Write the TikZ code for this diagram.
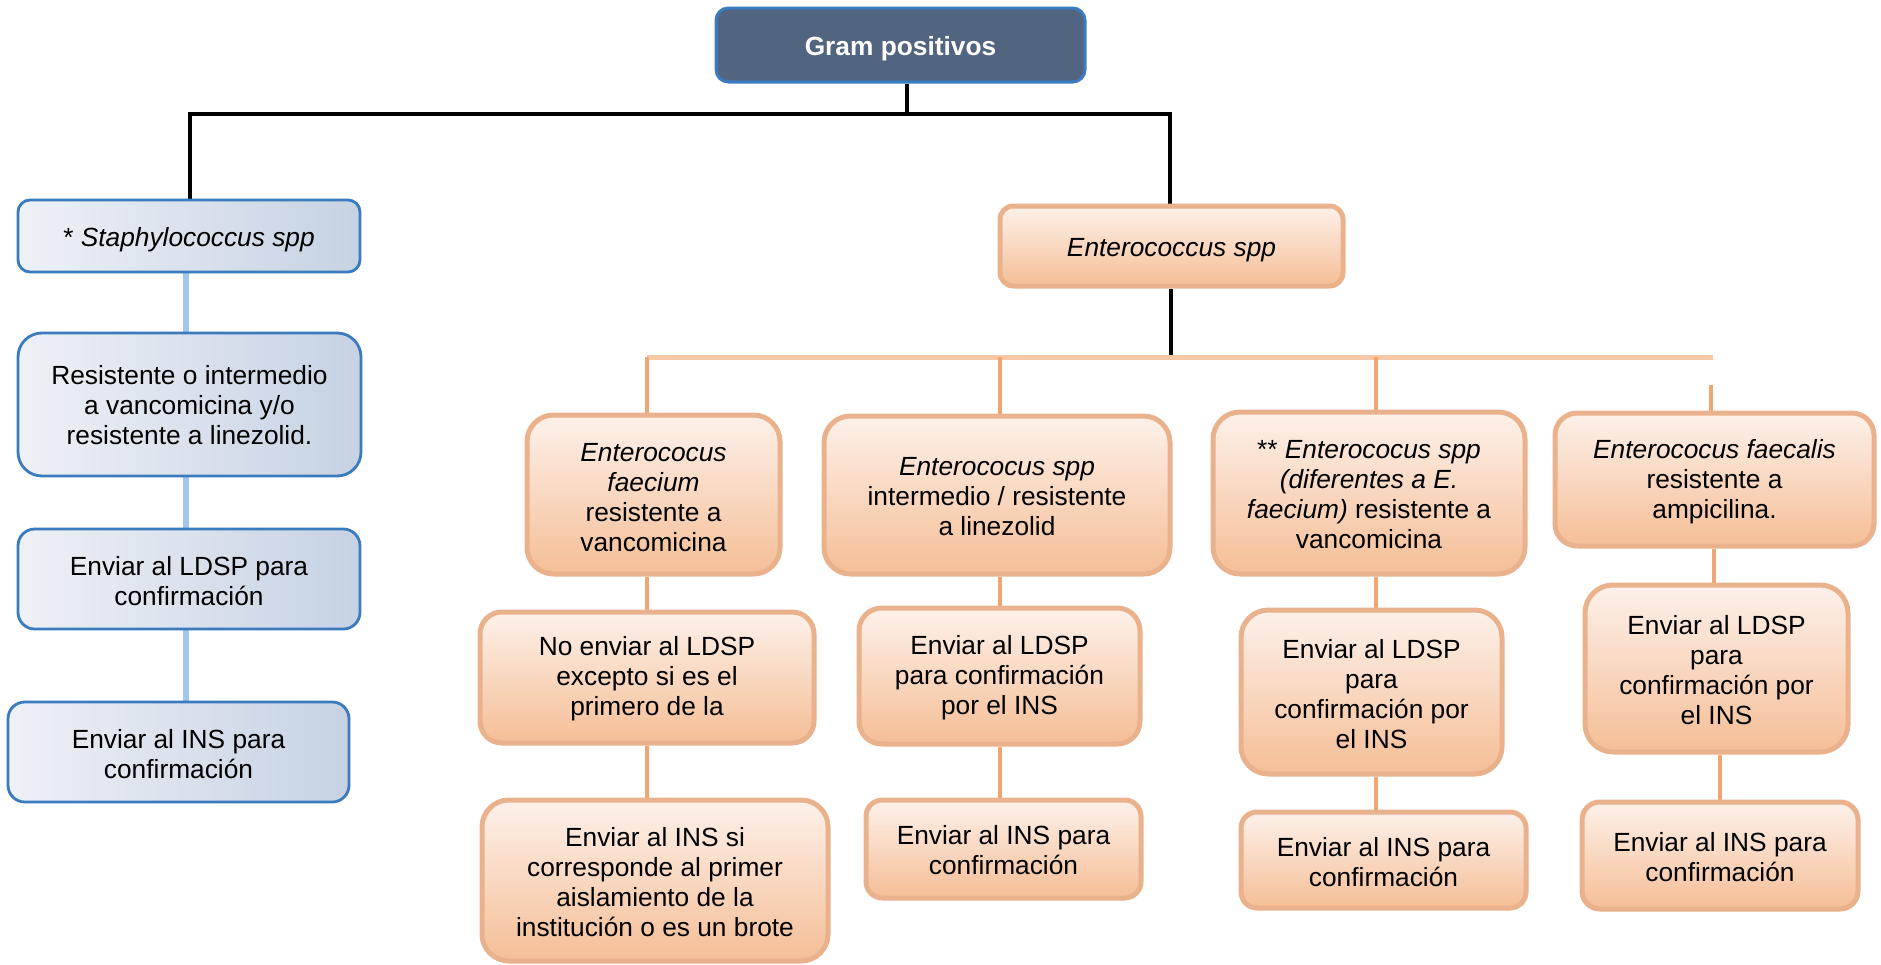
\documentclass[tikz,border=0pt]{standalone}
\usepackage{fontspec}
\setmainfont{Liberation Sans}
\pgfdeclarelayer{bg}
\pgfsetlayers{bg,main}
\definecolor{gramfill}{RGB}{82,101,128}
\definecolor{gramborder}{RGB}{58,124,194}
\definecolor{bluelight}{RGB}{238,241,246}
\definecolor{bluedark}{RGB}{198,210,227}
\definecolor{blueborder}{RGB}{58,122,190}
\definecolor{blueline}{RGB}{163,199,233}
\definecolor{orlight}{RGB}{253,241,234}
\definecolor{ordark}{RGB}{245,190,150}
\definecolor{orborder}{RGB}{234,178,140}
\definecolor{orline}{RGB}{240,166,115}
\definecolor{orbar}{RGB}{247,200,166}
\newcommand\mybox[9][txt]{%
  \pgfmathsetmacro\bw{#6-#4}%
  \pgfmathsetmacro\bh{#7-#5}%
  \pgfmathsetmacro\br{0.167*min(\bw,\bh)}%
  \node[#2, minimum width=\bw pt, minimum height=\bh pt, rounded corners=\br pt] (#3) at ({(#4+#6)/2},{(#5+#7)/2}) {};
  \node[#1] (#3-t) at ([yshift=-#8pt]#3.center) {#9};}
\begin{document}
\begin{tikzpicture}[x=1pt,y=-1pt,
  txt/.style={align=center, inner sep=0pt, font=\fontsize{26.3}{30}\selectfont},
  gramtxt/.style={txt, text=white, font=\fontsize{26.3}{30}\selectfont\bfseries},
  grambox/.style={draw=gramborder, line width=3pt, fill=gramfill},
  bluebox/.style={draw=blueborder, line width=2.8pt, left color=bluelight, right color=bluedark},
  orbox/.style={draw=orborder, line width=5pt, top color=orlight, bottom color=ordark},
  blk/.style={draw=black, line width=4.5pt},
  oline/.style={draw=orline, line width=4.5pt},
  obar/.style={draw=orbar, line width=5pt},
  bline/.style={draw=blueline, line width=5.5pt}]
\useasboundingbox (0,0) rectangle (1881,964);

% top
\mybox[gramtxt]{grambox}{gram}{716}{8}{1085}{82}{4}{Gram positivos}

% left column (blue)
\mybox{bluebox}{staph}{18}{200}{360}{272}{4}{* \textit{Staphylococcus spp}}
\mybox{bluebox}{res}{18}{333}{361}{476}{1}{Resistente o intermedio\\a vancomicina y/o\\resistente a linezolid.}
\mybox{bluebox}{ldspL}{18}{529}{360}{629}{2}{Enviar al LDSP para\\confirmación}
\mybox{bluebox}{insL}{8}{702}{349}{802}{2}{Enviar al INS para\\confirmación}

% Enterococcus
\mybox{orbox}{ent}{1000}{206}{1343}{286}{4}{\textit{Enterococcus spp}}

% row 1
\mybox{orbox}{c1a}{527}{415}{780}{574}{3}{\textit{Enterococus}\\\textit{faecium}\\resistente a\\vancomicina}
\mybox{orbox}{c2a}{824}{416}{1170}{574}{1.5}{\textit{Enterococus spp}\\intermedio / resistente\\a linezolid}
\mybox{orbox}{c3a}{1213}{412}{1525}{574}{1.5}{** \textit{Enterococus spp}\\\textit{(diferentes a E.}\\\textit{faecium)} resistente a\\vancomicina}
\mybox{orbox}{c4a}{1555}{413}{1874}{546}{2}{\textit{Enterococus faecalis}\\resistente a\\ampicilina.}

% row 2
\mybox{orbox}{c1b}{480}{612}{814}{743}{1.5}{No enviar al LDSP\\excepto si es el\\primero de la}
\mybox{orbox}{c2b}{859}{608}{1140}{744}{2}{Enviar al LDSP\\para confirmación\\por el INS}
\mybox{orbox}{c3b}{1241}{610}{1502}{774}{2}{Enviar al LDSP\\para\\confirmación por\\el INS}
\mybox{orbox}{c4b}{1585}{585}{1848}{752}{2}{Enviar al LDSP\\para\\confirmación por\\el INS}

% row 3
\mybox{orbox}{c1c}{482}{800}{828}{961}{2}{Enviar al INS si\\corresponde al primer\\aislamiento de la\\institución o es un brote}
\mybox{orbox}{c2c}{866}{800}{1141}{898}{1.5}{Enviar al INS para\\confirmación}
\mybox{orbox}{c3c}{1241}{812}{1526}{908}{2}{Enviar al INS para\\confirmación}
\mybox{orbox}{c4c}{1582}{802}{1858}{909}{2}{Enviar al INS para\\confirmación}

\coordinate (jG) at (907,114);
\coordinate (jL) at (190,114);
\coordinate (jR) at (1170,114);
\coordinate (bar) at (1171,357);
\coordinate (b1) at (647,357);
\coordinate (b2) at (1000,357);
\coordinate (b3) at (1376,357);
\coordinate (b4) at (1713,357);
\coordinate (t4) at (1711,385);
\coordinate (v4a) at (1714,0);
\coordinate (v4b) at (1720,0);
\coordinate (vb) at (186,0);

\begin{pgfonlayer}{bg}
\draw[blk] (gram.south -| jG) -- (jG);
\draw[blk] (staph.north -| jL) -- (jL) -- (jR) -- (ent.north -| jR);
\draw[blk] (ent.south -| bar) -- (bar);
\draw[obar] (b1) -- (b4);
\draw[oline] (b1) -- (b1 |- c1a.north);
\draw[oline] (b2) -- (b2 |- c2a.north);
\draw[oline] (b3) -- (b3 |- c3a.north);
\draw[oline] (t4) -- (t4 |- c4a.north);
\draw[oline] (c1a.south -| b1) -- (c1b.north -| b1);
\draw[oline] (c1b.south -| b1) -- (c1c.north -| b1);
\draw[oline] (c2a.south -| b2) -- (c2b.north -| b2);
\draw[oline] (c2b.south -| b2) -- (c2c.north -| b2);
\draw[oline] (c3a.south -| b3) -- (c3b.north -| b3);
\draw[oline] (c3b.south -| b3) -- (c3c.north -| b3);
\draw[oline] (c4a.south -| v4a) -- (c4b.north -| v4a);
\draw[oline] (c4b.south -| v4b) -- (c4c.north -| v4b);
\draw[bline] (staph.south -| vb) -- (res.north -| vb);
\draw[bline] (res.south -| vb) -- (ldspL.north -| vb);
\draw[bline] (ldspL.south -| vb) -- (insL.north -| vb);
\end{pgfonlayer}
\end{tikzpicture}
\end{document}
